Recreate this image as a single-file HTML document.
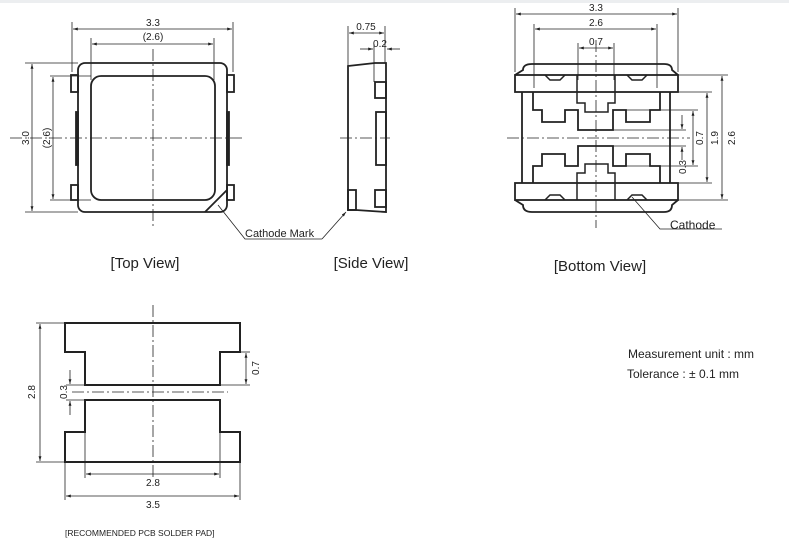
<!DOCTYPE html>
<html><head><meta charset="utf-8"><style>
html,body{margin:0;padding:0;background:#fff}
svg{display:block}
text{font-family:"Liberation Sans",sans-serif;fill:#222}
</style></head><body>
<svg width="789" height="546" viewBox="0 0 789 546" xmlns="http://www.w3.org/2000/svg">
<defs>
<marker id="a" viewBox="0 0 10 10" refX="10" refY="5" markerWidth="6" markerHeight="6" orient="auto-start-reverse"><path d="M0,2 L10,5 L0,8 z" fill="#222"/></marker>
</defs>
<rect x="0" y="0" width="789" height="3" fill="#eceef0"/>
<g stroke="#222" fill="none">
<!-- TOP VIEW -->
<g stroke-width="0.8">
<line x1="72" y1="22" x2="72" y2="72"/><line x1="233" y1="22" x2="233" y2="72"/>
<line x1="91" y1="38" x2="91" y2="80"/><line x1="214" y1="38" x2="214" y2="80"/>
<line x1="73" y1="29" x2="232" y2="29" marker-start="url(#a)" marker-end="url(#a)"/>
<line x1="92" y1="44" x2="213" y2="44" marker-start="url(#a)" marker-end="url(#a)"/>
<line x1="25" y1="63" x2="78" y2="63"/><line x1="25" y1="212" x2="78" y2="212"/>
<line x1="32" y1="64" x2="32" y2="211" marker-start="url(#a)" marker-end="url(#a)"/>
<line x1="50" y1="76" x2="91" y2="76"/><line x1="50" y1="200" x2="91" y2="200"/>
<line x1="53" y1="77" x2="53" y2="199" marker-start="url(#a)" marker-end="url(#a)"/>
<line x1="10" y1="138" x2="242" y2="138" stroke-dasharray="12,3,2,3"/>
<line x1="153" y1="49" x2="153" y2="227" stroke-dasharray="12,3,2,3"/>
</g>
<g stroke-width="1.8">
<rect x="78" y="63" width="149" height="149" rx="7"/>
<rect x="91" y="76" width="124" height="124" rx="10"/>
<rect x="71" y="75" width="7" height="17"/><rect x="71" y="185" width="7" height="15"/>
<rect x="227" y="75" width="7" height="17"/><rect x="227" y="185" width="7" height="15"/>
<rect x="76" y="112" width="2" height="53" fill="#222"/><rect x="227" y="112" width="2" height="53" fill="#222"/>
<path d="M205,212 L227,190"/>
</g>
<polyline stroke-width="0.8" points="218,205 245,239 322,239"/>
<line stroke-width="0.8" x1="322" y1="239" x2="346" y2="212" marker-end="url(#a)"/>
<!-- SIDE VIEW -->
<g stroke-width="0.8">
<line x1="348" y1="26" x2="348" y2="66"/><line x1="385" y1="26" x2="385" y2="63"/>
<line x1="349" y1="33" x2="384" y2="33" marker-start="url(#a)" marker-end="url(#a)"/>
<line x1="374" y1="44" x2="374" y2="82"/>
<line x1="360" y1="49" x2="373" y2="49" marker-end="url(#a)"/>
<line x1="400" y1="49" x2="387" y2="49" marker-end="url(#a)"/>
<line x1="340" y1="138" x2="390" y2="138" stroke-dasharray="12,3,2,3"/>
</g>
<g stroke-width="1.8">
<path d="M348,66 L375,63 L386,63 L386,212 L356,210 L348,210 Z"/>
<rect x="375" y="82" width="11" height="16"/>
<rect x="376" y="112" width="10" height="53"/>
<rect x="375" y="190" width="11" height="17"/>
<rect x="348" y="190" width="8" height="20"/>
</g>
<!-- BOTTOM VIEW -->
<g stroke-width="0.8">
<line x1="515" y1="8" x2="515" y2="72"/><line x1="678" y1="8" x2="678" y2="72"/>
<line x1="516" y1="14" x2="677" y2="14" marker-start="url(#a)" marker-end="url(#a)"/>
<line x1="534" y1="24" x2="534" y2="88"/><line x1="657" y1="24" x2="657" y2="88"/>
<line x1="535" y1="29" x2="656" y2="29" marker-start="url(#a)" marker-end="url(#a)"/>
<line x1="578" y1="43" x2="578" y2="80"/><line x1="614" y1="43" x2="614" y2="80"/>
<line x1="579" y1="48" x2="613" y2="48" marker-start="url(#a)" marker-end="url(#a)"/>
<line x1="507" y1="138" x2="690" y2="138" stroke-dasharray="12,3,2,3"/>
<line x1="596" y1="40" x2="596" y2="228" stroke-dasharray="12,3,2,3"/>
<line x1="678" y1="75" x2="728" y2="75"/><line x1="678" y1="200" x2="728" y2="200"/>
<line x1="722" y1="76" x2="722" y2="199" marker-start="url(#a)" marker-end="url(#a)"/>
<line x1="678" y1="92" x2="712" y2="92"/><line x1="678" y1="183" x2="712" y2="183"/>
<line x1="707" y1="93" x2="707" y2="182" marker-start="url(#a)" marker-end="url(#a)"/>
<line x1="626" y1="110" x2="698" y2="110"/><line x1="626" y1="166" x2="698" y2="166"/>
<line x1="693" y1="111" x2="693" y2="165" marker-start="url(#a)" marker-end="url(#a)"/>
<line x1="613" y1="130" x2="686" y2="130"/><line x1="613" y1="146" x2="686" y2="146"/>
<line x1="682" y1="115" x2="682" y2="129" marker-end="url(#a)"/>
<line x1="682" y1="160" x2="682" y2="147" marker-end="url(#a)"/>
<polyline points="632,197 660,229 722,229"/>
</g>
<g stroke-width="1.8">
<path d="M515,75 L523,70 Q523,64 532,64 L664,64 Q672,64 672,70 L678,75"/>
<path d="M515,200 L523,205 Q523,212 532,212 L664,212 Q672,212 672,205 L678,200"/>
<rect x="515" y="75" width="163" height="17"/>
<rect x="515" y="183" width="163" height="17"/>
<line x1="522" y1="92" x2="522" y2="183"/><line x1="670" y1="92" x2="670" y2="183"/>
<path d="M533,92 L533,110 L542,110 L542,122 L565,122 L565,110 L578,110 L578,130 L613,130 L613,110 L626,110 L626,122 L650,122 L650,110 L660,110 L660,92"/>
<path d="M533,183 L533,166 L542,166 L542,154 L565,154 L565,166 L578,166 L578,146 L613,146 L613,166 L626,166 L626,154 L650,154 L650,166 L660,166 L660,183"/>
<path d="M545,75 L550,80 L560,80 L565,75 M577,75 L577,103 L585,103 L585,112 L608,112 L608,103 L615,103 L615,75 M627,75 L632,80 L642,80 L647,75" stroke-width="1.5"/>
<path d="M545,200 L550,195 L560,195 L565,200 M577,200 L577,173 L585,173 L585,164 L608,164 L608,173 L615,173 L615,200 M627,200 L632,195 L642,195 L647,200" stroke-width="1.5"/>
</g>
<!-- PCB PAD -->
<g stroke-width="0.8">
<line x1="153" y1="305" x2="153" y2="478" stroke-dasharray="12,3,2,3"/>
<line x1="72" y1="392" x2="228" y2="392" stroke-dasharray="12,3,2,3"/>
<line x1="36" y1="323" x2="65" y2="323"/><line x1="36" y1="462" x2="65" y2="462"/>
<line x1="40" y1="324" x2="40" y2="461" marker-start="url(#a)" marker-end="url(#a)"/>
<line x1="240" y1="352" x2="250" y2="352"/><line x1="220" y1="385" x2="250" y2="385"/>
<line x1="246" y1="353" x2="246" y2="384" marker-start="url(#a)" marker-end="url(#a)"/>
<line x1="66" y1="385" x2="85" y2="385"/><line x1="66" y1="400" x2="85" y2="400"/>
<line x1="70" y1="370" x2="70" y2="384" marker-end="url(#a)"/>
<line x1="70" y1="415" x2="70" y2="401" marker-end="url(#a)"/>
<line x1="85" y1="432" x2="85" y2="478"/><line x1="220" y1="432" x2="220" y2="478"/>
<line x1="86" y1="474" x2="219" y2="474" marker-start="url(#a)" marker-end="url(#a)"/>
<line x1="65" y1="462" x2="65" y2="500"/><line x1="240" y1="462" x2="240" y2="500"/>
<line x1="66" y1="496" x2="239" y2="496" marker-start="url(#a)" marker-end="url(#a)"/>
</g>
<g stroke-width="2">
<path d="M65,323 L240,323 L240,352 L220,352 L220,385 L85,385 L85,352 L65,352 Z"/>
<path d="M85,400 L220,400 L220,432 L240,432 L240,462 L65,462 L65,432 L85,432 Z"/>
</g>
</g>
<!-- TEXT -->
<g font-size="10" text-anchor="middle">
<text x="153" y="26">3.3</text><text x="153" y="40">(2.6)</text>
<text transform="translate(29,138) rotate(-90)">3.0</text>
<text transform="translate(50,138) rotate(-90)">(2.6)</text>
<text x="366" y="30">0.75</text><text x="380" y="47">0.2</text>
<text x="596" y="11">3.3</text><text x="596" y="26">2.6</text><text x="596" y="45">0.7</text>
<text transform="translate(735,138) rotate(-90)">2.6</text>
<text transform="translate(718,138) rotate(-90)">1.9</text>
<text transform="translate(703,138) rotate(-90)">0.7</text>
<text transform="translate(686,167) rotate(-90)">0.3</text>
<text transform="translate(35,392) rotate(-90)">2.8</text>
<text transform="translate(67,392) rotate(-90)">0.3</text>
<text transform="translate(259,368) rotate(-90)">0.7</text>
<text x="153" y="486">2.8</text><text x="153" y="508">3.5</text>
</g>
<text x="245" y="237" font-size="11">Cathode Mark</text>
<text x="670" y="229" font-size="12">Cathode</text>
<g font-size="15" text-anchor="middle">
<text x="145" y="268">[Top View]</text>
<text x="371" y="268">[Side View]</text>
<text x="600" y="271">[Bottom View]</text>
</g>
<text x="65" y="536" font-size="8.5">[RECOMMENDED PCB SOLDER PAD]</text>
<text x="628" y="358" font-size="12">Measurement unit : mm</text>
<text x="627" y="378" font-size="12">Tolerance : ± 0.1 mm</text>
</svg>
</body></html>
